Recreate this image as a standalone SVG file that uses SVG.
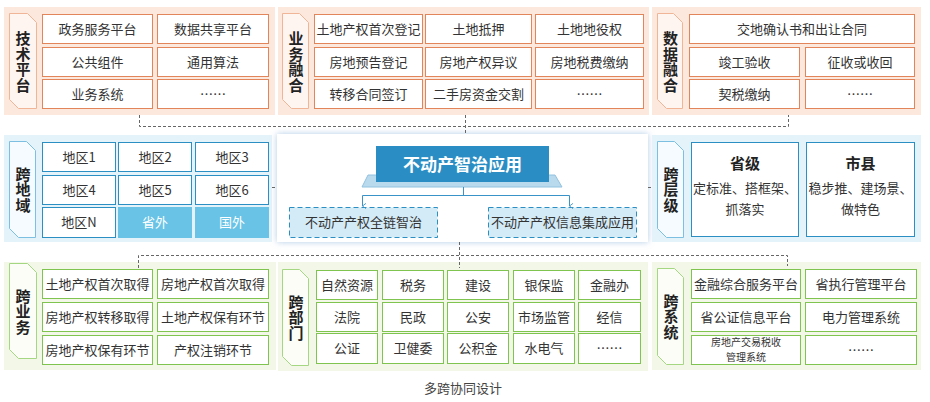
<svg xmlns="http://www.w3.org/2000/svg" width="930" height="402" viewBox="0 0 930 402">
<defs>
<style>
text{font-family:"Noto Sans CJK SC","Microsoft YaHei",sans-serif;}
.t{font-size:13px;fill:#333;text-anchor:middle}
.ts{font-size:10px;fill:#333;text-anchor:middle}
.lab{font-size:15px;font-weight:bold;fill:#222;text-anchor:middle;writing-mode:vertical-rl;letter-spacing:0.5px}
.hd{font-size:15px;font-weight:bold;fill:#222;text-anchor:middle}
.po{fill:#fde8dd}
.to{fill:#fff5f0;stroke:#f0b597;stroke-width:1}
.bo{fill:#fff;stroke:#e2855a;stroke-width:1}
.pb{fill:#e4f3fa}
.tb{fill:#f5fbfe;stroke:#7dbfe0;stroke-width:1}
.bb{fill:#fff;stroke:#2c8fc3;stroke-width:1}
.bf{fill:#68c3e6}
.wt{font-size:13px;fill:#fff;text-anchor:middle}
.pg{fill:#f2f7e7}
.tg{fill:#fbfdf6;stroke:#a5d682;stroke-width:1}
.bg{fill:#fff;stroke:#80c450;stroke-width:1}
.dash{fill:none;stroke:#666;stroke-width:1;stroke-dasharray:3 2}
.bl{fill:none;stroke:#3a93c8;stroke-width:1}
.db{fill:#d3ebf7;stroke:#2c8fc3;stroke-width:1;stroke-dasharray:5 3}
</style>
<filter id="sh" x="-10%" y="-20%" width="120%" height="140%">
<feDropShadow dx="0" dy="0" stdDeviation="3" flood-color="#9dbfe0" flood-opacity="0.8"/>
</filter>
<marker id="ar" viewBox="0 0 8 8" refX="4" refY="7" markerWidth="7" markerHeight="7" orient="auto-start-reverse" markerUnits="userSpaceOnUse">
<path d="M1,3 L4,7 L7,3" fill="none" stroke="#3a93c8" stroke-width="1"/>
</marker>
</defs>
<rect width="930" height="402" fill="#fff"/>

<!-- Row 1 -->
<g id="tech-platform">
<rect class="po" x="4" y="7" width="271" height="108"/>
<path class="to" d="M9.5,13.5H27.5L36.5,22.5V108.5H18.5L9.5,99.5Z"/>
<text class="lab" x="23" y="62">技术平台</text>
<rect class="bo" x="42.5" y="14.5" width="110" height="29"/><text class="t" x="97.5" y="33.5">政务服务平台</text>
<rect class="bo" x="157.5" y="14.5" width="111" height="29"/><text class="t" x="213" y="33.5">数据共享平台</text>
<rect class="bo" x="42.5" y="47.5" width="110" height="29"/><text class="t" x="97.5" y="66.5">公共组件</text>
<rect class="bo" x="157.5" y="47.5" width="111" height="29"/><text class="t" x="213" y="66.5">通用算法</text>
<rect class="bo" x="42.5" y="79.5" width="110" height="29"/><text class="t" x="97.5" y="98.5">业务系统</text>
<rect class="bo" x="157.5" y="79.5" width="111" height="29"/><text class="t" x="213" y="98.5">……</text>
</g>

<g id="business-fusion">
<rect class="po" x="278" y="7" width="371" height="108"/>
<path class="to" d="M282.5,13.5H299.5L308.5,22.5V108.5H291.5L282.5,99.5Z"/>
<text class="lab" x="296" y="62">业务融合</text>
<rect class="bo" x="314.5" y="14.5" width="108" height="29"/><text class="t" x="368.5" y="33.5">土地产权首次登记</text>
<rect class="bo" x="425.5" y="14.5" width="106" height="29"/><text class="t" x="478.5" y="33.5">土地抵押</text>
<rect class="bo" x="535.5" y="14.5" width="108" height="29"/><text class="t" x="589.5" y="33.5">土地地役权</text>
<rect class="bo" x="314.5" y="47.5" width="108" height="29"/><text class="t" x="368.5" y="66.5">房地预告登记</text>
<rect class="bo" x="425.5" y="47.5" width="106" height="29"/><text class="t" x="478.5" y="66.5">房地产权异议</text>
<rect class="bo" x="535.5" y="47.5" width="108" height="29"/><text class="t" x="589.5" y="66.5">房地税费缴纳</text>
<rect class="bo" x="314.5" y="79.5" width="108" height="29"/><text class="t" x="368.5" y="98.5">转移合同签订</text>
<rect class="bo" x="425.5" y="79.5" width="106" height="29"/><text class="t" x="478.5" y="98.5">二手房资金交割</text>
<rect class="bo" x="535.5" y="79.5" width="108" height="29"/><text class="t" x="589.5" y="98.5">……</text>
</g>

<g id="data-fusion">
<rect class="po" x="652" y="7" width="269" height="108"/>
<path class="to" d="M657.5,13.5H673.5L682.5,22.5V108.5H666.5L657.5,99.5Z"/>
<text class="lab" x="670.5" y="62">数据融合</text>
<rect class="bo" x="689.5" y="14.5" width="225" height="29"/><text class="t" x="802" y="33.5">交地确认书和出让合同</text>
<rect class="bo" x="689.5" y="47.5" width="110" height="29"/><text class="t" x="744.5" y="66.5">竣工验收</text>
<rect class="bo" x="805.5" y="47.5" width="109" height="29"/><text class="t" x="860" y="66.5">征收或收回</text>
<rect class="bo" x="689.5" y="79.5" width="110" height="29"/><text class="t" x="744.5" y="98.5">契税缴纳</text>
<rect class="bo" x="805.5" y="79.5" width="109" height="29"/><text class="t" x="860" y="98.5">……</text>
</g>

<!-- Row 2 -->
<g id="cross-region">
<rect class="pb" x="4" y="135" width="268" height="107"/>
<path class="tb" d="M9.5,141.5H26.5L35.5,150.5V237.5H18.5L9.5,228.5Z"/>
<text class="lab" x="23" y="190">跨地域</text>
<rect class="bb" x="42.5" y="142.5" width="73" height="29"/><text class="t" x="79" y="161.5">地区1</text>
<rect class="bb" x="118.5" y="142.5" width="73" height="29"/><text class="t" x="155" y="161.5">地区2</text>
<rect class="bb" x="195.5" y="142.5" width="73" height="29"/><text class="t" x="232" y="161.5">地区3</text>
<rect class="bb" x="42.5" y="175.5" width="73" height="29"/><text class="t" x="79" y="194.5">地区4</text>
<rect class="bb" x="118.5" y="175.5" width="73" height="29"/><text class="t" x="155" y="194.5">地区5</text>
<rect class="bb" x="195.5" y="175.5" width="73" height="29"/><text class="t" x="232" y="194.5">地区6</text>
<rect class="bb" x="42.5" y="207.5" width="73" height="30"/><text class="t" x="79" y="227">地区N</text>
<rect class="bf" x="118" y="207" width="74" height="31"/><text class="wt" x="155" y="227">省外</text>
<rect class="bf" x="195" y="207" width="74" height="31"/><text class="wt" x="232" y="227">国外</text>
</g>

<g id="real-estate-app">
<rect x="277" y="134" width="371" height="108" fill="#fff" filter="url(#sh)"/>
<path d="M368,175 H555 L562,187 H362 Z" fill="#b9d9ec" stroke="#92c3e0" stroke-width="1"/>
<rect x="376" y="146" width="173" height="36" fill="#2a8ec4"/>
<text x="462.5" y="170.5" style="font-size:17px;font-weight:bold;fill:#fff;text-anchor:middle">不动产智治应用</text>
<rect class="db" x="289.5" y="207.5" width="148" height="30"/><text class="t" x="363.5" y="227">不动产产权全链智治</text>
<rect class="db" x="488.5" y="207.5" width="148" height="30"/><text class="t" x="562.5" y="227">不动产产权信息集成应用</text>
</g>

<g id="cross-level">
<rect class="pb" x="652" y="135" width="269" height="107"/>
<path class="tb" d="M657.5,141.5H674.5L683.5,150.5V237.5H666.5L657.5,228.5Z"/>
<text class="lab" x="671" y="190">跨层级</text>
<rect class="bb" x="691.5" y="142.5" width="107" height="94"/>
<text class="hd" x="745" y="168.5">省级</text>
<text class="t" x="745" y="192.5">定标准、搭框架、</text>
<text class="t" x="745" y="213.5">抓落实</text>
<rect class="bb" x="806.5" y="142.5" width="108" height="94"/>
<text class="hd" x="860.5" y="168.5">市县</text>
<text class="t" x="860.5" y="192.5">稳步推、建场景、</text>
<text class="t" x="860.5" y="213.5">做特色</text>
</g>

<!-- Row 3 -->
<g id="cross-business">
<rect class="pg" x="4" y="262" width="272" height="108"/>
<path class="tg" d="M9.5,263.5H27.5L36.5,272.5V358.5H18.5L9.5,349.5Z"/>
<text class="lab" x="23" y="312">跨业务</text>
<rect class="bg" x="42.5" y="269.5" width="110" height="29"/><text class="t" x="97.5" y="288.5">土地产权首次取得</text>
<rect class="bg" x="157.5" y="269.5" width="111" height="29"/><text class="t" x="213" y="288.5">房地产权首次取得</text>
<rect class="bg" x="42.5" y="302.5" width="110" height="29"/><text class="t" x="97.5" y="321.5">房地产权转移取得</text>
<rect class="bg" x="157.5" y="302.5" width="111" height="29"/><text class="t" x="213" y="321.5">土地产权保有环节</text>
<rect class="bg" x="42.5" y="335.5" width="110" height="29"/><text class="t" x="97.5" y="354.5">房地产权保有环节</text>
<rect class="bg" x="157.5" y="335.5" width="111" height="29"/><text class="t" x="213" y="354.5">产权注销环节</text>
</g>

<g id="cross-department">
<rect class="pg" x="278" y="262" width="370" height="109"/>
<path class="tg" d="M282.5,269.5H299.5L308.5,278.5V365.5H291.5L282.5,356.5Z"/>
<text class="lab" x="296" y="318">跨部门</text>
<rect class="bg" x="316.5" y="270.5" width="61" height="29"/><text class="t" x="347" y="289.5">自然资源</text>
<rect class="bg" x="382.5" y="270.5" width="61" height="29"/><text class="t" x="413" y="289.5">税务</text>
<rect class="bg" x="447.5" y="270.5" width="61" height="29"/><text class="t" x="478" y="289.5">建设</text>
<rect class="bg" x="513.5" y="270.5" width="61" height="29"/><text class="t" x="544" y="289.5">银保监</text>
<rect class="bg" x="578.5" y="270.5" width="62" height="29"/><text class="t" x="609.5" y="289.5">金融办</text>
<rect class="bg" x="316.5" y="302.5" width="61" height="29"/><text class="t" x="347" y="321.5">法院</text>
<rect class="bg" x="382.5" y="302.5" width="61" height="29"/><text class="t" x="413" y="321.5">民政</text>
<rect class="bg" x="447.5" y="302.5" width="61" height="29"/><text class="t" x="478" y="321.5">公安</text>
<rect class="bg" x="513.5" y="302.5" width="61" height="29"/><text class="t" x="544" y="321.5">市场监管</text>
<rect class="bg" x="578.5" y="302.5" width="62" height="29"/><text class="t" x="609.5" y="321.5">经信</text>
<rect class="bg" x="316.5" y="333.5" width="61" height="30"/><text class="t" x="347" y="353">公证</text>
<rect class="bg" x="382.5" y="333.5" width="61" height="30"/><text class="t" x="413" y="353">卫健委</text>
<rect class="bg" x="447.5" y="333.5" width="61" height="30"/><text class="t" x="478" y="353">公积金</text>
<rect class="bg" x="513.5" y="333.5" width="61" height="30"/><text class="t" x="544" y="353">水电气</text>
<rect class="bg" x="578.5" y="333.5" width="62" height="30"/><text class="t" x="609.5" y="353">……</text>
</g>

<g id="cross-system">
<rect class="pg" x="652" y="262" width="269" height="108"/>
<path class="tg" d="M657.5,268.5H674.5L683.5,277.5V364.5H666.5L657.5,355.5Z"/>
<text class="lab" x="671" y="317">跨系统</text>
<rect class="bg" x="691.5" y="269.5" width="109" height="29"/><text class="t" x="746" y="288.5">金融综合服务平台</text>
<rect class="bg" x="805.5" y="269.5" width="111" height="29"/><text class="t" x="861" y="288.5">省执行管理平台</text>
<rect class="bg" x="691.5" y="302.5" width="109" height="29"/><text class="t" x="746" y="321.5">省公证信息平台</text>
<rect class="bg" x="805.5" y="302.5" width="111" height="29"/><text class="t" x="861" y="321.5">电力管理系统</text>
<rect class="bg" x="691.5" y="335.5" width="109" height="29"/>
<text class="ts"><tspan x="746" y="346">房地产交易税收</tspan><tspan x="746" y="360.5">管理系统</tspan></text>
<rect class="bg" x="805.5" y="335.5" width="111" height="29"/><text class="t" x="861" y="354.5">……</text>
</g>

<g id="connectors">
<path class="dash" d="M139.5,115 V126.5 H788.5 V115"/>
<path class="dash" d="M465.5,115 V134"/>
<path class="dash" d="M272,187.5 H277"/>
<path class="dash" d="M648,187.5 H652"/>
<path class="dash" d="M459.5,242 V268"/>
<path class="dash" d="M138.5,268 V255.5 H787.5 V266"/>
<path class="bl" d="M463.5,187 V195.5"/>
<path class="bl" d="M362.5,195.5 H569.5"/>
<path class="bl" d="M362.5,195.5 V206" marker-end="url(#ar)"/>
<path class="bl" d="M569.5,195.5 V206" marker-end="url(#ar)"/>
</g>

<text x="463" y="393" style="font-size:13px;fill:#444;text-anchor:middle">多跨协同设计</text>
</svg>
